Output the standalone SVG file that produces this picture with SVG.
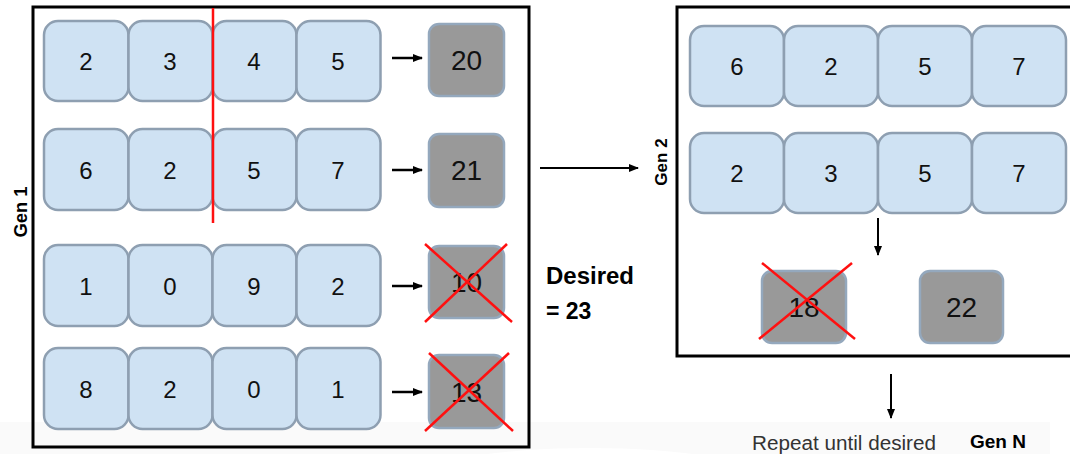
<svg xmlns="http://www.w3.org/2000/svg" width="1070" height="454" viewBox="0 0 1070 454">
  <defs>
    <marker id="arrow" viewBox="0 0 10 10" refX="9" refY="5" markerWidth="10" markerHeight="10" markerUnits="userSpaceOnUse" orient="auto">
      <path d="M0,1 L10,5 L0,9 Z" fill="#000"/>
    </marker>
    <style>
      .frame { fill: none; stroke: #000; stroke-width: 3; }
      .gene { fill: #cfe2f3; stroke: #8e9fb1; stroke-width: 2.5; }
      .fit { fill: #999999; stroke: #94a8bd; stroke-width: 2.5; }
      .num { font-family: "Liberation Sans", Arial, sans-serif; font-size: 24px; fill: #111; text-anchor: middle; }
      .big { font-family: "Liberation Sans", Arial, sans-serif; font-size: 28px; fill: #111; text-anchor: middle; }
      .lbl { font-family: "Liberation Sans", Arial, sans-serif; font-weight: bold; fill: #000; }
      .link { stroke: #000; stroke-width: 2.5; fill: none; marker-end: url(#arrow); }
      .thin { stroke-width: 2; }
      .cut { stroke: #ff1010; stroke-width: 2.5; fill: none; }
    </style>
  </defs>

  <!-- page background with a faint lower band -->
  <rect x="0" y="0" width="1070" height="454" fill="#fff"/>
  <rect x="0" y="422" width="1050" height="32" fill="#fafafa"/>
  <ellipse cx="590" cy="478" rx="170" ry="30" fill="#fff"/>

  <!-- generation frames -->
  <g id="gen1-frame">
    <rect class="frame" x="33" y="7" width="496" height="440"/>
    <text class="lbl" font-size="19" transform="translate(27,212) rotate(-90)" text-anchor="middle" textLength="51" lengthAdjust="spacingAndGlyphs">Gen 1</text>
  </g>
  <g id="gen2-frame">
    <rect class="frame" x="677" y="7" width="400" height="349"/>
    <text class="lbl" font-size="17" transform="translate(667,162) rotate(-90)" text-anchor="middle">Gen 2</text>
  </g>

  <!-- generation 1 chromosomes -->
  <g id="g1-row1">
    <rect class="gene" x="44" y="21" width="84.5" height="80" rx="14"/>
    <rect class="gene" x="128.5" y="21" width="84" height="80" rx="14"/>
    <rect class="gene" x="212.5" y="21" width="84" height="80" rx="14"/>
    <rect class="gene" x="296.5" y="21" width="84" height="80" rx="14"/>
    <text class="num" x="86" y="70">2</text>
    <text class="num" x="170" y="70">3</text>
    <text class="num" x="254" y="70">4</text>
    <text class="num" x="338" y="70">5</text>
  </g>
  <g id="g1-row2">
    <rect class="gene" x="44" y="129" width="84.5" height="81" rx="14"/>
    <rect class="gene" x="128.5" y="129" width="84" height="81" rx="14"/>
    <rect class="gene" x="212.5" y="129" width="84" height="81" rx="14"/>
    <rect class="gene" x="296.5" y="129" width="84" height="81" rx="14"/>
    <text class="num" x="86" y="179">6</text>
    <text class="num" x="170" y="179">2</text>
    <text class="num" x="254" y="179">5</text>
    <text class="num" x="338" y="179">7</text>
  </g>
  <g id="g1-row3">
    <rect class="gene" x="44" y="245" width="84.5" height="81" rx="14"/>
    <rect class="gene" x="128.5" y="245" width="84" height="81" rx="14"/>
    <rect class="gene" x="212.5" y="245" width="84" height="81" rx="14"/>
    <rect class="gene" x="296.5" y="245" width="84" height="81" rx="14"/>
    <text class="num" x="86" y="295">1</text>
    <text class="num" x="170" y="295">0</text>
    <text class="num" x="254" y="295">9</text>
    <text class="num" x="338" y="295">2</text>
  </g>
  <g id="g1-row4">
    <rect class="gene" x="44" y="348" width="84.5" height="81" rx="14"/>
    <rect class="gene" x="128.5" y="348" width="84" height="81" rx="14"/>
    <rect class="gene" x="212.5" y="348" width="84" height="81" rx="14"/>
    <rect class="gene" x="296.5" y="348" width="84" height="81" rx="14"/>
    <text class="num" x="86" y="398">8</text>
    <text class="num" x="170" y="398">2</text>
    <text class="num" x="254" y="398">0</text>
    <text class="num" x="338" y="398">1</text>
  </g>

  <!-- generation 1 fitness scores -->
  <g id="fit-20">
    <rect class="fit" x="429" y="24" width="75" height="72" rx="10"/>
    <text class="big" x="466.5" y="70">20</text>
  </g>
  <g id="fit-21">
    <rect class="fit" x="429" y="134" width="75" height="73" rx="10"/>
    <text class="big" x="466.5" y="180">21</text>
  </g>
  <g id="fit-10">
    <rect class="fit" x="429" y="246" width="75" height="72" rx="10"/>
    <text class="big" x="466.5" y="292">10</text>
    <line class="cut" x1="425" y1="244" x2="512" y2="322"/>
    <line class="cut" x1="507" y1="244" x2="425" y2="322"/>
  </g>
  <g id="fit-13">
    <rect class="fit" x="429" y="355" width="75" height="73" rx="10"/>
    <text class="big" x="466.5" y="402">13</text>
    <line class="cut" x1="429" y1="353" x2="513" y2="431"/>
    <line class="cut" x1="509" y1="353" x2="425" y2="431"/>
  </g>

  <!-- crossover point -->
  <g id="crossover">
    <line class="cut" x1="213" y1="8" x2="213" y2="223"/>
  </g>

  <!-- target note -->
  <g id="desired">
    <text class="lbl" font-size="23" x="546" y="284" textLength="88" lengthAdjust="spacingAndGlyphs">Desired</text>
    <text class="lbl" font-size="23" x="546" y="319">= 23</text>
  </g>

  <!-- generation 2 chromosomes -->
  <g id="g2-row1">
    <rect class="gene" x="690" y="26" width="94" height="80" rx="14"/>
    <rect class="gene" x="784" y="26" width="94" height="80" rx="14"/>
    <rect class="gene" x="878" y="26" width="94" height="80" rx="14"/>
    <rect class="gene" x="972" y="26" width="94" height="80" rx="14"/>
    <text class="num" x="737" y="75">6</text>
    <text class="num" x="831" y="75">2</text>
    <text class="num" x="925" y="75">5</text>
    <text class="num" x="1019" y="75">7</text>
  </g>
  <g id="g2-row2">
    <rect class="gene" x="690" y="133" width="94" height="80" rx="14"/>
    <rect class="gene" x="784" y="133" width="94" height="80" rx="14"/>
    <rect class="gene" x="878" y="133" width="94" height="80" rx="14"/>
    <rect class="gene" x="972" y="133" width="94" height="80" rx="14"/>
    <text class="num" x="737" y="182">2</text>
    <text class="num" x="831" y="182">3</text>
    <text class="num" x="925" y="182">5</text>
    <text class="num" x="1019" y="182">7</text>
  </g>

  <!-- generation 2 fitness scores -->
  <g id="fit-18">
    <rect class="fit" x="762" y="271" width="84" height="72" rx="10"/>
    <text class="big" x="804" y="317">18</text>
    <line class="cut" x1="762" y1="263" x2="855" y2="339"/>
    <line class="cut" x1="852" y1="263" x2="759" y2="339"/>
  </g>
  <g id="fit-22">
    <rect class="fit" x="920" y="271" width="83" height="72" rx="10"/>
    <text class="big" x="961.5" y="317">22</text>
  </g>

  <!-- repeat note -->
  <g id="gen-n">
    <text x="752" y="450" font-family="'Liberation Sans', Arial, sans-serif" font-size="20" fill="#333" textLength="184" lengthAdjust="spacingAndGlyphs">Repeat until desired</text>
    <text class="lbl" font-size="19" x="970" y="448" textLength="56" lengthAdjust="spacingAndGlyphs">Gen N</text>
  </g>

  <!-- connectors -->
  <g id="connectors">
    <line class="link" x1="392" y1="58" x2="422" y2="58"/>
    <line class="link" x1="392" y1="170" x2="422" y2="170"/>
    <line class="link" x1="392" y1="286" x2="422" y2="286"/>
    <line class="link" x1="392" y1="392" x2="422" y2="392"/>
    <line class="link thin" x1="540" y1="168" x2="638" y2="168"/>
    <line class="link thin" x1="878" y1="218" x2="878" y2="255"/>
    <line class="link thin" x1="891" y1="374" x2="891" y2="418"/>
  </g>
</svg>
